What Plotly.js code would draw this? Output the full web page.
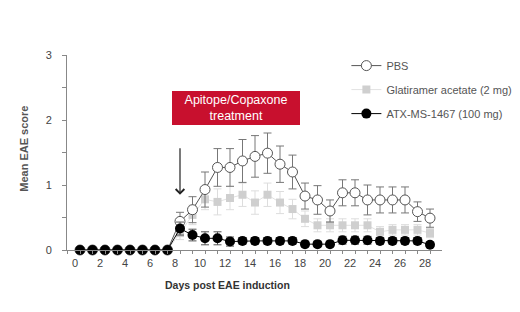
<!DOCTYPE html>
<html>
<head>
<meta charset="utf-8">
<script src="https://cdn.plot.ly/plotly-3.0.1.min.js"></script>
<style>html,body{margin:0;padding:0;background:#fff}#chart{width:520px;height:312px}</style>
</head>
<body>
<div id="chart"></div>
<script>
var days = [0,1,2,3,4,5,6,7,8,9,10,11,12,13,14,15,16,17,18,19,20,21,22,23,24,25,26,27,28];
var pbs = [0,0,0,0,0,0,0,0,0.44,0.62,0.93,1.27,1.27,1.37,1.44,1.49,1.32,1.20,0.83,0.77,0.60,0.88,0.88,0.77,0.77,0.77,0.77,0.59,0.49];
var pbsErr = [0,0,0,0,0,0,0,0,0.14,0.20,0.27,0.29,0.29,0.33,0.32,0.31,0.28,0.26,0.20,0.22,0.17,0.20,0.20,0.23,0.20,0.20,0.20,0.15,0.14];
var ga = [0,0,0,0,0,0,0,0,0.26,0.54,0.78,0.74,0.80,0.85,0.73,0.85,0.73,0.63,0.48,0.38,0.38,0.38,0.38,0.38,0.28,0.31,0.31,0.31,0.26];
var gaErr = [0,0,0,0,0,0,0,0,0.10,0.15,0.16,0.20,0.18,0.18,0.18,0.18,0.17,0.15,0.12,0.10,0.10,0.10,0.10,0.10,0.08,0.08,0.08,0.08,0.07];
var atx = [0,0,0,0,0,0,0,0,0.33,0.23,0.18,0.18,0.13,0.14,0.14,0.14,0.14,0.14,0.09,0.09,0.09,0.15,0.15,0.15,0.14,0.14,0.14,0.14,0.08];
var atxErr = [0,0,0,0,0,0,0,0,0.10,0.09,0.10,0.10,0.07,0.05,0.05,0.05,0.05,0.05,0.04,0.04,0.04,0.06,0.06,0.06,0.05,0.05,0.05,0.05,0.04];
var xTickVals = [0,2,4,6,8,10,12,14,16,18,20,22,24,26,28];
var xTickText = ["0","2","4","6","8","10","12","14","16","18","20","22","24","26","28"];
var yTickVals = [0,1,2,3];
var yTickText = ["0","1","2","3"];
var names = ["PBS","Glatiramer acetate (2 mg)","ATX-MS-1467 (100 mg)"];

var F = "Liberation Sans, Arial, sans-serif";

var tGA = {
  x: days, y: ga, name: names[1], type: "scatter", mode: "lines+markers",
  legendrank: 2, legendgroup: "b", cliponaxis: false,
  line: {color: "#e2e2e2", width: 1},
  marker: {symbol: "square", size: 8, color: "#cfcfcf"},
  error_y: {type: "data", array: gaErr, visible: true, color: "#dddddd", thickness: 1, width: 4}
};
var tPBS = {
  x: days, y: pbs, name: names[0], type: "scatter", mode: "lines+markers",
  legendrank: 1, legendgroup: "a", cliponaxis: false,
  line: {color: "#555555", width: 1},
  marker: {symbol: "circle", size: 10, color: "#ffffff", line: {color: "#555555", width: 1}},
  error_y: {type: "data", array: pbsErr, visible: true, color: "#777777", thickness: 1, width: 4}
};
var tATX = {
  x: days, y: atx, name: names[2], type: "scatter", mode: "lines+markers",
  legendrank: 3, legendgroup: "c", cliponaxis: false,
  line: {color: "#000000", width: 1},
  marker: {symbol: "circle", size: 10, color: "#000000"},
  error_y: {type: "data", array: atxErr, visible: true, color: "#555555", thickness: 1, width: 4}
};

var layout = {
  width: 520, height: 312,
  margin: {l: 67, r: 78, t: 55, b: 62, autoexpand: false},
  paper_bgcolor: "#ffffff", plot_bgcolor: "#ffffff",
  font: {family: F, size: 11, color: "#444"},
  showlegend: true,
  legend: {x: 0.745, y: 1.02, xanchor: "left", yanchor: "top", tracegroupgap: 5, borderwidth: 0,
           font: {family: F, size: 11, color: "#555"}, bgcolor: "rgba(0,0,0,0)"},
  xaxis: {
    range: [-1.04, 28.96], showgrid: false, zeroline: false,
    showline: true, linecolor: "#888", linewidth: 1,
    tickmode: "array", tickvals: xTickVals, ticktext: xTickText,
    ticks: "outside", ticklen: 3, tickcolor: "#888", ticklabelshift: -5,
    minor: {dtick: 1, tick0: 0, ticks: "outside", ticklen: 3, tickcolor: "#888"},
    tickfont: {family: F, size: 11, color: "#444"}
  },
  yaxis: {
    range: [0, 3], showgrid: false, zeroline: false,
    showline: true, linecolor: "#888", linewidth: 1,
    tickmode: "array", tickvals: yTickVals, ticktext: yTickText,
    ticks: "outside", ticklen: 4, tickcolor: "#888", ticklabelstandoff: 8,
    minor: {dtick: 0.5, tick0: 0, ticks: "outside", ticklen: 4, tickcolor: "#888"},
    tickfont: {family: F, size: 11, color: "#444"}
  },
  annotations: [
    {xref: "x", yref: "y", x: 12.48, y: 2.18, text: "Apitope/Copaxone<br>treatment",
     showarrow: false, bgcolor: "#c8102e", bordercolor: "#c8102e", borderwidth: 1, borderpad: 0,
     width: 126, height: 32, font: {family: F, size: 12.5, color: "#ffffff"}, align: "center"},
    {xref: "x", yref: "y", x: 8, y: 0.85, text: "", showarrow: true, ax: 0, ay: -48,
     arrowhead: 4, arrowsize: 1.4, arrowwidth: 1.2, arrowcolor: "#222"},
    {xref: "paper", yref: "paper", x: 0.429, y: -0.18, xanchor: "center", yanchor: "middle",
     text: "<b>Days post EAE induction</b>", showarrow: false, font: {family: F, size: 10.5, color: "#333"}},
    {xref: "paper", yref: "paper", x: -0.117, y: 0.52, xanchor: "center", yanchor: "middle",
     text: "<b>Mean EAE score</b>", textangle: -90, showarrow: false, font: {family: F, size: 11, color: "#555"}}
  ]
};

Plotly.newPlot("chart", [tGA, tPBS, tATX], layout, {staticPlot: true, displayModeBar: false});
</script>
</body>
</html>
